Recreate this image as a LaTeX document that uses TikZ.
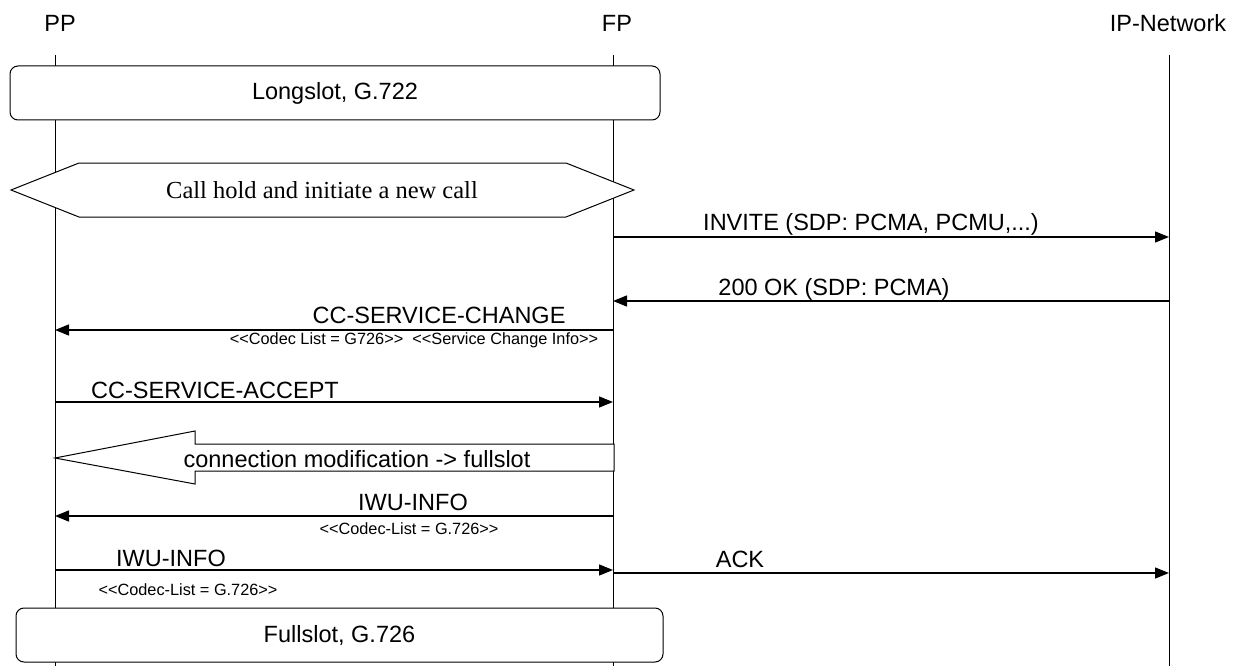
\documentclass[tikz,border=0pt]{standalone}
\usepackage{fontspec}
\setmainfont{Liberation Sans}
\newfontfamily\timesfont{Liberation Serif}
\usetikzlibrary{arrows.meta}
\newcommand{\dlt}{<\kern0pt<}
\newcommand{\dgt}{>\kern0pt>}
\begin{document}
\begin{tikzpicture}[x=1pt,y=-1pt,
  lifeline/.style={line width=0.9pt},
  msg/.style={line width=1.4pt,-{Triangle[length=14pt,width=11pt]}},
  lbl/.style={font=\fontsize{23.5}{26}\selectfont, anchor=base, inner sep=0pt},
  sublbl/.style={font=\fontsize{16.3}{18}\selectfont, anchor=base, inner sep=0pt},
  statebox/.style={draw, fill=white, line width=1pt, rounded corners=8pt, inner sep=0pt, font=\fontsize{23.5}{26}\selectfont},
  shapeline/.style={draw, fill=white, line width=1pt, line join=miter}
]
\useasboundingbox (0,0) rectangle (1239,666);

% headers
\node[lbl] (pp) at (60,32) {PP};
\node[lbl] (fp) at (617,32) {FP};
\node[lbl] (ip) at (1168,32) {IP-Network};

% lifelines
\coordinate (ppTop) at (55,55);
\coordinate (ppBot) at (55,666);
\coordinate (fpTop) at (613,55);
\coordinate (fpBot) at (613,666);
\coordinate (ipTop) at (1169,55);
\coordinate (ipBot) at (1169,666);
\draw[lifeline] (ppTop) -- (ppBot);
\draw[lifeline] (fpTop) -- (fpBot);
\draw[lifeline] (ipTop) -- (ipBot);

% Longslot box
\node[statebox, minimum width=650pt, minimum height=54pt] (long) at (335,93) {Longslot, G.722};

% hexagon
\coordinate (hxL) at (11,190);
\coordinate (hxTL) at (79,163);
\coordinate (hxTR) at (566,163);
\coordinate (hxR) at (634,190);
\coordinate (hxBR) at (566,217);
\coordinate (hxBL) at (79,217);
\path[shapeline] (hxL) -- (hxTL) -- (hxTR) -- (hxR) -- (hxBR) -- (hxBL) -- cycle;
\node[font=\timesfont\fontsize{24.5}{27}\selectfont, inner sep=0pt] (hold) at (322,190) {Call hold and initiate a new call};

% INVITE
\coordinate (fpInv) at (613,237);
\coordinate (ipInv) at (1169,237);
\draw[msg] (fpInv) -- (ipInv);
\node[lbl] (invL) at (871,230) {INVITE (SDP: PCMA, PCMU,...)};

% 200 OK
\coordinate (ipOk) at (1169,301);
\coordinate (fpOk) at (613,301);
\draw[msg] (ipOk) -- (fpOk);
\node[lbl] (okL) at (834,295) {200 OK (SDP: PCMA)};

% CC-SERVICE-CHANGE
\coordinate (fpChg) at (613,330);
\coordinate (ppChg) at (55,330);
\draw[msg] (fpChg) -- (ppChg);
\node[lbl] (chgL) at (439,323) {CC-SERVICE-CHANGE};
\node[sublbl] (chgS) at (414,344) {\dlt Codec List = G726\dgt\ \ \dlt Service Change Info\dgt};

% CC-SERVICE-ACCEPT
\coordinate (ppAcc) at (55,402);
\coordinate (fpAcc) at (613,402);
\draw[msg] (ppAcc) -- (fpAcc);
\node[lbl] (accL) at (215,398) {CC-SERVICE-ACCEPT};

% big arrow
\coordinate (baR1) at (614,444);
\coordinate (baS1) at (195,444);
\coordinate (baH1) at (195,431);
\coordinate (baTip) at (55,458);
\coordinate (baH2) at (195,484);
\coordinate (baS2) at (195,471);
\coordinate (baR2) at (614,471);
\path[shapeline] (baR1) -- (baS1) -- (baH1) -- (baTip) -- (baH2) -- (baS2) -- (baR2) -- cycle;
\node[lbl] (modL) at (357,467) {connection modification -> fullslot};

% IWU-INFO FP -> PP
\coordinate (fpIwu) at (613,516);
\coordinate (ppIwu) at (55,516);
\draw[msg] (fpIwu) -- (ppIwu);
\node[lbl] (iwu1L) at (413,510) {IWU-INFO};
\node[sublbl] (iwu1S) at (409,534) {\dlt Codec-List = G.726\dgt};

% IWU-INFO PP -> FP
\coordinate (ppIwu2) at (55,570);
\coordinate (fpIwu2) at (613,570);
\draw[msg] (ppIwu2) -- (fpIwu2);
\node[lbl] (iwu2L) at (171,566) {IWU-INFO};
\node[sublbl] (iwu2S) at (188,595) {\dlt Codec-List = G.726\dgt};

% ACK
\coordinate (fpAck) at (613,573);
\coordinate (ipAck) at (1169,573);
\draw[msg] (fpAck) -- (ipAck);
\node[lbl] (ackL) at (740,567) {ACK};

% Fullslot box
\node[statebox, minimum width=647pt, minimum height=54pt] (full) at (339.5,635) {Fullslot, G.726};
\end{tikzpicture}
\end{document}
